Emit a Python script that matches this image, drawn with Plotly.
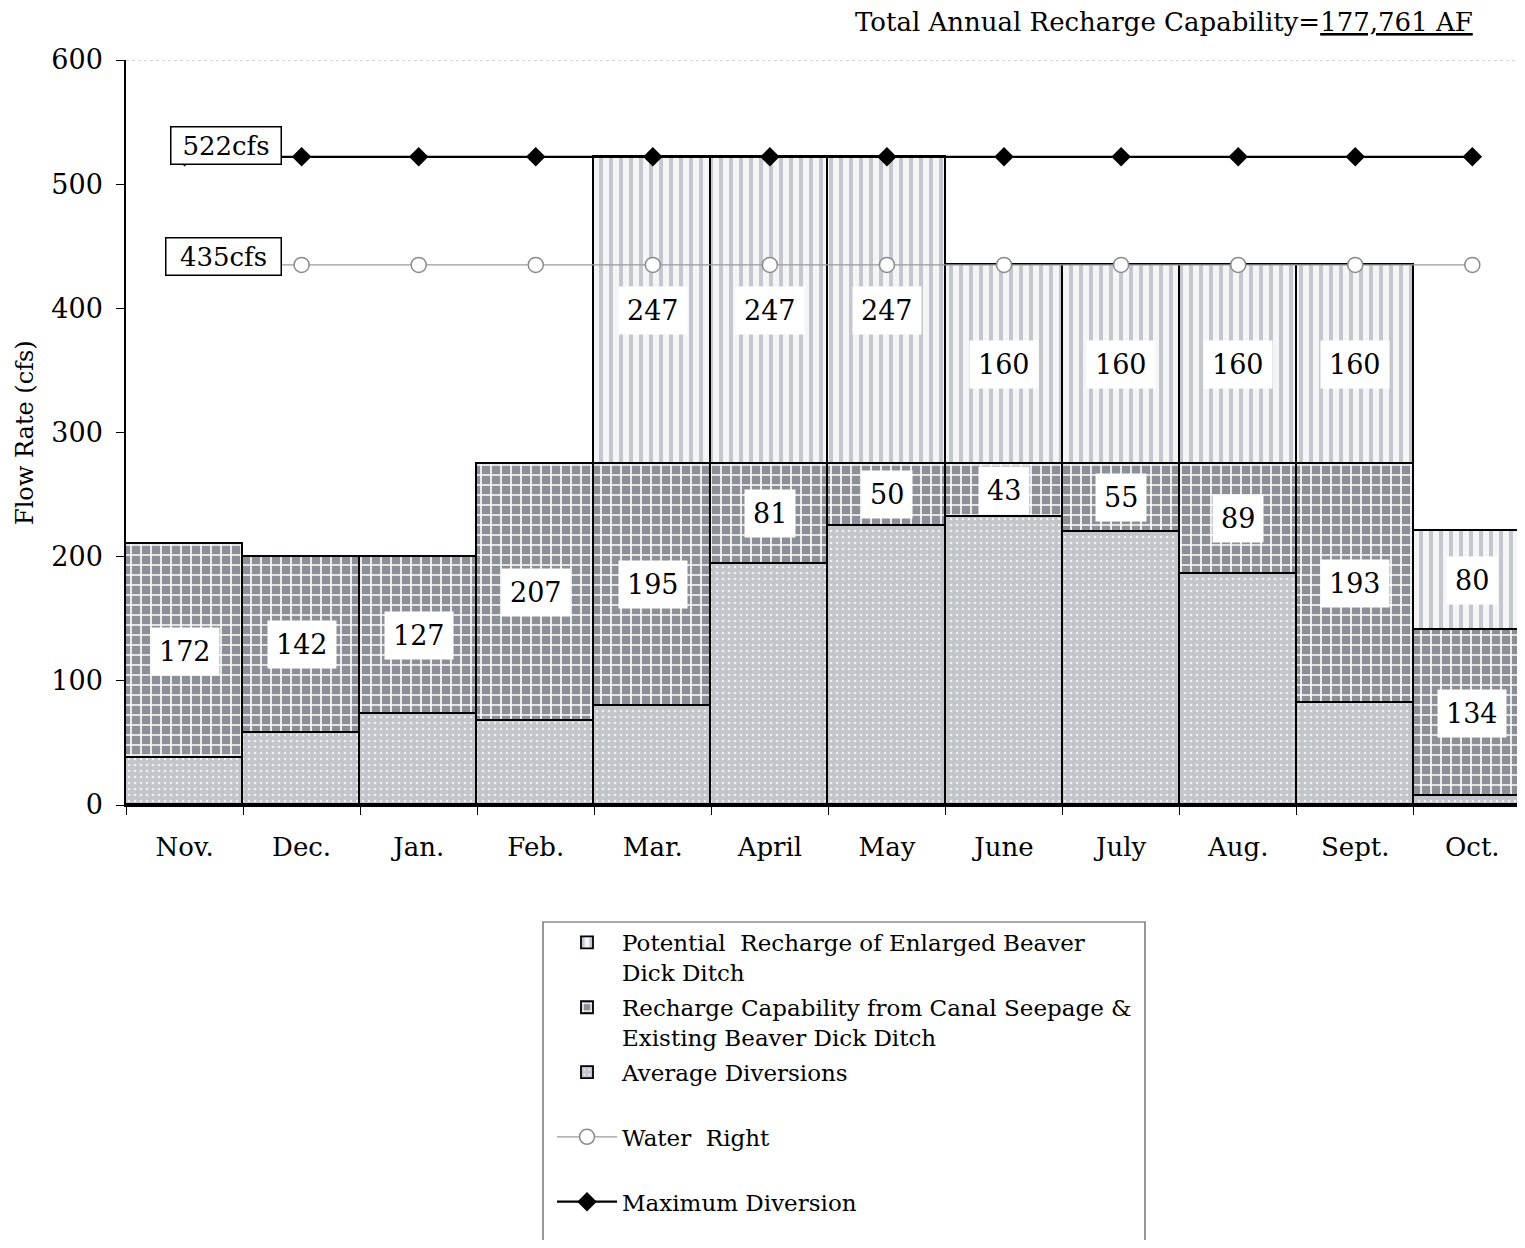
import plotly.graph_objects as go

months = ["Nov.", "Dec.", "Jan.", "Feb.", "Mar.", "April", "May", "June", "July", "Aug.", "Sept.", "Oct."]
avg_diversions = [38, 58, 73, 68, 80, 194, 225, 232, 220, 186, 82, 7]
canal_recharge = [172, 142, 127, 207, 195, 81, 50, 43, 55, 89, 193, 134]
potential_recharge = [None, None, None, None, 247, 247, 247, 160, 160, 160, 160, 80]
water_right = [435, 435, 435, 435, 435, 435, 435, 435, 435, 435, 435, 435]
max_diversion = [522, 522, 522, 522, 522, 522, 522, 522, 522, 522, 522, 522]
y_ticks = [0, 100, 200, 300, 400, 500, 600]

FONT = "DejaVu Serif"
# page body has an 8px margin: figure is sized so it ends at the window edge
W, H = 1517, 1232
ML, MT = 118, 52
PW, PH = 1399, 745


def px(xr):  # reference x pixel -> paper
    return (xr - 126) / PW


def py(yr):  # reference y pixel -> paper
    return (805 - yr) / PH


fig = go.Figure()

fig.add_trace(go.Bar(
    x=months, y=avg_diversions, name="Average Diversions<br>&nbsp;", legendrank=3, legendgroup="g3",
    marker=dict(color="#c3c6cb", line=dict(color="black", width=1.8),
                pattern=dict(shape=".", fgcolor="#eef0f2", bgcolor="#c2c5ca", size=6, solidity=0.15, fillmode="replace")),
))
fig.add_trace(go.Bar(
    x=months, y=canal_recharge, name="Recharge Capability from Canal Seepage &<br>Existing Beaver Dick Ditch",
    legendrank=2, legendgroup="g2",
    marker=dict(color="#8e9196", line=dict(color="black", width=1.8),
                pattern=dict(shape="+", fgcolor="white", bgcolor="#8c8f95", size=10, solidity=0.3, fillmode="replace")),
))
fig.add_trace(go.Bar(
    x=months, y=potential_recharge, name="Potential  Recharge of Enlarged Beaver<br>Dick Ditch",
    legendrank=1, legendgroup="g1",
    marker=dict(color="#dfe2e6", line=dict(color="black", width=1.8),
                pattern=dict(shape="|", fgcolor="#c4c8ce", bgcolor="#f4f5f7", size=10, solidity=0.4, fillmode="replace")),
))
fig.add_trace(go.Scatter(
    x=months, y=water_right, name="Water  Right<br>&nbsp;", mode="lines+markers", legendrank=4, legendgroup="g4",
    line=dict(color="#9a9a9a", width=1.2),
    marker=dict(symbol="circle", size=15, color="white", line=dict(color="#8a8a8a", width=1.5)),
))
fig.add_trace(go.Scatter(
    x=months, y=max_diversion, name="Maximum Diversion", mode="lines+markers", legendrank=5, legendgroup="g5",
    line=dict(color="black", width=2.2),
    marker=dict(symbol="diamond", size=15, color="black"),
))

LABEL_FONT = dict(family=FONT, size=27, color="black")
annotations = []
for i, m in enumerate(months):
    base = avg_diversions[i]
    annotations.append(dict(x=m, y=base + canal_recharge[i] / 2, text=str(canal_recharge[i]),
                            showarrow=False, bgcolor="white", borderpad=8, font=LABEL_FONT))
    if potential_recharge[i] is not None:
        top_base = base + canal_recharge[i]
        annotations.append(dict(x=m, y=top_base + potential_recharge[i] / 2, text=str(potential_recharge[i]),
                                showarrow=False, bgcolor="white", borderpad=8, font=LABEL_FONT))

annotations.append(dict(xref="paper", x=px(282), xanchor="right", yref="y", y=max_diversion[0] + 9,
                        text=f"{max_diversion[0]}cfs", showarrow=False, bgcolor="white",
                        bordercolor="black", borderwidth=1.5, borderpad=6, width=97, height=24,
                        font=dict(family=FONT, size=26, color="black")))
annotations.append(dict(xref="paper", x=px(282), xanchor="right", yref="y", y=water_right[0] + 7,
                        text=f"{water_right[0]}cfs", showarrow=False, bgcolor="white",
                        bordercolor="black", borderwidth=1.5, borderpad=6, width=102, height=24,
                        font=dict(family=FONT, size=26, color="black")))
annotations.append(dict(xref="paper", x=px(1475), xanchor="right", yref="paper", y=py(22),
                        yanchor="middle", text="Total Annual Recharge Capability=<u>177,761 AF</u>",
                        showarrow=False, font=dict(family=FONT, size=26, color="black")))
annotations.append(dict(xref="paper", x=px(25), xanchor="center", yref="paper", y=py(433),
                        yanchor="middle", text="Flow Rate (cfs)", textangle=-90,
                        showarrow=False, font=dict(family=FONT, size=24, color="black")))

shapes = [
    dict(type="line", xref="paper", x0=0, x1=1, yref="y", y0=600, y1=600,
         line=dict(color="#aaaaaa", width=1, dash="dot"), layer="below"),
    dict(type="rect", xref="paper", x0=px(543), x1=px(1145),
         yref="paper", y0=py(922), y1=py(1260),
         line=dict(color="#555555", width=1.2), fillcolor="rgba(0,0,0,0)"),
]

fig.update_layout(
    width=W, height=H,
    margin=dict(l=ML, r=W - ML - PW, t=MT, b=H - MT - PH, autoexpand=False),
    plot_bgcolor="white", paper_bgcolor="white",
    barmode="stack", bargap=0,
    font=dict(family=FONT, size=24, color="black"),
    annotations=annotations, shapes=shapes,
    showlegend=True,
    legend=dict(x=px(552), y=py(921), xanchor="left", yanchor="top",
                bgcolor="rgba(0,0,0,0)", borderwidth=0, font=dict(family=FONT, size=23, color="black"),
                itemwidth=60, tracegroupgap=2, valign="top", traceorder="grouped"),
)
fig.update_xaxes(type="category", range=[-0.5, 11.45], tickson="boundaries", ticks="outside", ticklen=8,
                 tickcolor="black", showline=True, linecolor="black", linewidth=1.5, showgrid=False,
                 tickfont=dict(family=FONT, size=26), ticklabelstandoff=18, automargin=False)
fig.update_yaxes(range=[0, 600], tickvals=y_ticks, ticks="outside", ticklen=8, tickcolor="black",
                 showline=True, linecolor="black", linewidth=1.5, showgrid=False, zeroline=False,
                 tickfont=dict(family=FONT, size=27), ticklabelstandoff=8, automargin=False)

fig.write_html("out.html")
